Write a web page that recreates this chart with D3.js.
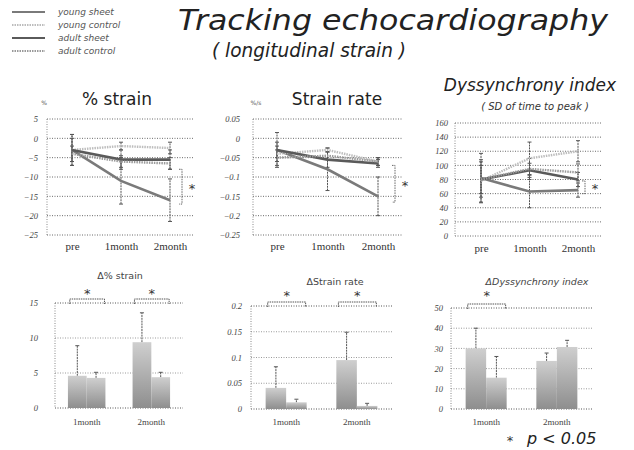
<!DOCTYPE html>
<html>
<head>
<meta charset="utf-8">
<script src="https://cdn.jsdelivr.net/npm/d3@7"></script>
<style>
  html, body { margin: 0; padding: 0; background: #fff; }
  svg { display: block; font-family: "DejaVu Sans", Verdana, sans-serif; }
</style>
</head>
<body>
<svg id="chart" width="634" height="450"></svg>
<script>
// ---- data ----
const timepoints = ['pre', '1month', '2month'];
const seriesNames = ['young sheet', 'young control', 'adult sheet', 'adult control'];

// % strain (mean, SD) per group
const strainYoungSheet = [-3, -11, -16];
const strainYoungControl = [-3, -2, -2.5];
const strainAdultSheet = [-3, -5.5, -5.5];
const strainAdultControl = [-4, -6, -6.5];
const strainYoungSheetSD = [4, 6, 5.5];
const strainYoungControlSD = [4, 1, 1.5];
const strainAdultSheetSD = [3, 2.5, 2.5];
const strainAdultControlSD = [2, 1.5, 1.5];

// strain rate (%/s)
const rateYoungSheet = [-0.03, -0.08, -0.15];
const rateYoungControl = [-0.04, -0.03, -0.06];
const rateAdultSheet = [-0.03, -0.055, -0.065];
const rateAdultControl = [-0.05, -0.045, -0.06];
const rateYoungSheetSD = [0.045, 0.055, 0.05];
const rateYoungControlSD = [0.02, 0.005, 0.01];
const rateAdultSheetSD = [0.02, 0.02, 0.01];
const rateAdultControlSD = [0.02, 0.01, 0.01];

// dyssynchrony index (SD of time to peak)
const dysYoungSheet = [82, 63, 65];
const dysYoungControl = [78, 110, 120];
const dysAdultSheet = [80, 93, 80];
const dysAdultControl = [80, 95, 90];
const dysYoungSheetSD = [35, 23, 10];
const dysYoungControlSD = [30, 23, 15];
const dysAdultSheetSD = [20, 10, 10];
const dysAdultControlSD = [25, 15, 12];

const strainTicks = [5, 0, -5, -10, -15, -20, -25];
const rateTicks = [0.05, 0, -0.05, -0.1, -0.15, -0.2, -0.25];
const dysTicks = [160, 140, 120, 100, 80, 60, 40, 20, 0];

// change from baseline, two bars per month
const deltaMonths = ['1month', '2month'];
const dStrainSheet = [4.6, 9.4];
const dStrainSheetSD = [4.3, 4.2];
const dStrainControl = [4.3, 4.4];
const dStrainControlSD = [0.8, 0.7];
const dRateSheet = [0.041, 0.095];
const dRateSheetSD = [0.041, 0.054];
const dRateControl = [0.013, 0.006];
const dRateControlSD = [0.006, 0.005];
const dDysSheet = [30, 23.8];
const dDysSheetSD = [10, 3.9];
const dDysControl = [15.5, 30.7];
const dDysControlSD = [10.5, 3.3];

const dStrainTicks = [0, 5, 10, 15];
const dRateTicks = [0, 0.05, 0.1, 0.15, 0.2];
const dDysTicks = [0, 10, 20, 30, 40, 50];

// ---- styles ----
const serif = '"Liberation Serif", "DejaVu Serif", serif';
const lineStyles = [
  { stroke: '#7a7a7a', width: 2.6, dash: null },     // young sheet
  { stroke: '#bdbdbd', width: 2.4, dash: '1.5,1' },  // young control
  { stroke: '#5a5a5a', width: 2.6, dash: null },     // adult sheet
  { stroke: '#9a9a9a', width: 2.4, dash: '1.5,1' }   // adult control
];

const svg = d3.select('#chart');

const defs = svg.append('defs');
const grad = defs.append('linearGradient').attr('id', 'barFill')
  .attr('x1', 0).attr('y1', 0).attr('x2', 0).attr('y2', 1);
grad.append('stop').attr('offset', '0%').attr('stop-color', '#cfcfcf');
grad.append('stop').attr('offset', '100%').attr('stop-color', '#8e8e8e');

// ---- title & legend ----
svg.append('text').attr('x', 178).attr('y', 30)
  .attr('font-size', 28).attr('font-style', 'italic').attr('fill', '#222')
  .attr('textLength', 430).attr('lengthAdjust', 'spacingAndGlyphs')
  .text('Tracking echocardiography');
svg.append('text').attr('x', 212).attr('y', 57)
  .attr('font-size', 19).attr('font-style', 'italic').attr('fill', '#222')
  .attr('textLength', 194).attr('lengthAdjust', 'spacingAndGlyphs')
  .text('( longitudinal strain )');

const legend = svg.append('g');
seriesNames.forEach((name, i) => {
  const y = 12 + i * 13;
  const st = lineStyles[i];
  legend.append('line').attr('x1', 12).attr('x2', 45).attr('y1', y).attr('y2', y)
    .attr('stroke', st.stroke).attr('stroke-width', 2)
    .attr('stroke-dasharray', st.dash);
  legend.append('text').attr('x', 58).attr('y', y + 3).attr('font-size', 9)
    .attr('font-style', 'italic').attr('fill', '#555').text(name);
});

// ---- line panels ----
function linePanel(cfg) {
  const g = svg.append('g');
  const x = d3.scalePoint().domain(timepoints).range(cfg.xr);
  const y = d3.scaleLinear().domain(cfg.domain).range(cfg.yr);

  // grid
  g.selectAll('line.grid').data(cfg.ticks).join('line')
    .attr('x1', cfg.gx[0]).attr('x2', cfg.gx[1])
    .attr('y1', d => y(d)).attr('y2', d => y(d))
    .attr('stroke', '#6a6a6a').attr('stroke-width', 1).attr('stroke-dasharray', '1,1.5');
  g.append('line').attr('x1', cfg.gx[0]).attr('x2', cfg.gx[0])
    .attr('y1', y(cfg.domain[1])).attr('y2', y(cfg.domain[0]))
    .attr('stroke', '#8a8a8a').attr('stroke-dasharray', '1,1.5');

  // y axis labels
  const yAxis = d3.axisLeft(y).tickValues(cfg.ticks).tickSize(0).tickPadding(0)
    .tickFormat(cfg.fmt);
  const ya = g.append('g').attr('transform', `translate(${cfg.labelX},0)`).call(yAxis)
    .attr('font-family', serif);
  ya.select('.domain').remove();
  ya.selectAll('text').attr('font-size', 8.5).attr('font-style', 'italic').attr('fill', '#444');

  // x axis labels
  const xAxis = d3.axisBottom(x).tickSize(0).tickPadding(0);
  const xa = g.append('g').attr('transform', `translate(0,${cfg.catY})`).call(xAxis)
    .attr('font-family', serif);
  xa.select('.domain').remove();
  xa.selectAll('text').attr('font-size', 11).attr('fill', '#333');

  // error bars
  cfg.series.forEach((s) => {
    s.mean.forEach((m, i) => {
      const sd = s.sd[i];
      const cx = x(timepoints[i]);
      g.append('line').attr('x1', cx).attr('x2', cx)
        .attr('y1', y(m - sd)).attr('y2', y(m + sd))
        .attr('stroke', '#555').attr('stroke-width', 1).attr('stroke-dasharray', '2,0.8');
      [m - sd, m + sd].forEach(v => {
        g.append('line').attr('x1', cx - 2).attr('x2', cx + 2)
          .attr('y1', y(v)).attr('y2', y(v)).attr('stroke', '#555').attr('stroke-width', 1);
      });
    });
  });

  // series lines
  const line = d3.line().x((d, i) => x(timepoints[i])).y(d => y(d));
  cfg.series.forEach((s, si) => {
    const st = lineStyles[si];
    g.append('path').attr('d', line(s.mean)).attr('fill', 'none')
      .attr('stroke', st.stroke).attr('stroke-width', st.width)
      .attr('stroke-dasharray', st.dash);
  });

  // significance bracket
  const b = cfg.bracket;
  const by1 = y(b.from), by2 = y(b.to);
  g.append('path')
    .attr('d', `M${b.x - 3},${by1} H${b.x} V${by2} H${b.x - 3}`)
    .attr('fill', 'none').attr('stroke', '#666').attr('stroke-dasharray', '1.5,1');
  g.append('text').attr('x', b.x + 10).attr('y', (by1 + by2) / 2 + 6)
    .attr('text-anchor', 'middle').attr('font-size', 13).attr('fill', '#333').text('*');

  return { g, x, y };
}

const p1 = linePanel({
  xr: [72, 170], gx: [47, 193], domain: [-25, 5], yr: [235, 119],
  ticks: strainTicks, fmt: d3.format('d'), labelX: 38, catY: 242,
  series: [
    { mean: strainYoungSheet, sd: strainYoungSheetSD },
    { mean: strainYoungControl, sd: strainYoungControlSD },
    { mean: strainAdultSheet, sd: strainAdultSheetSD },
    { mean: strainAdultControl, sd: strainAdultControlSD }
  ],
  bracket: { x: 182, from: -8, to: -17 }
});
p1.g.append('text').attr('x', 117).attr('y', 105).attr('text-anchor', 'middle')
  .attr('font-size', 17).attr('fill', '#222').text('% strain');
p1.g.append('text').attr('x', 44).attr('y', 105).attr('text-anchor', 'middle')
  .attr('font-size', 6).attr('fill', '#555').text('%');

const p2 = linePanel({
  xr: [277, 378], gx: [253, 402], domain: [-0.25, 0.05], yr: [235, 119],
  ticks: rateTicks, fmt: d => (d === 0 ? '0' : d3.format('.2~f')(d)), labelX: 240, catY: 242,
  series: [
    { mean: rateYoungSheet, sd: rateYoungSheetSD },
    { mean: rateYoungControl, sd: rateYoungControlSD },
    { mean: rateAdultSheet, sd: rateAdultSheetSD },
    { mean: rateAdultControl, sd: rateAdultControlSD }
  ],
  bracket: { x: 395, from: -0.07, to: -0.165 }
});
p2.g.append('text').attr('x', 337).attr('y', 105).attr('text-anchor', 'middle')
  .attr('font-size', 17).attr('fill', '#222').text('Strain rate');
p2.g.append('text').attr('x', 256).attr('y', 105).attr('text-anchor', 'middle')
  .attr('font-size', 6).attr('fill', '#555').text('%/s');

const p3 = linePanel({
  xr: [481, 578], gx: [455, 602], domain: [0, 160], yr: [236, 123],
  ticks: dysTicks, fmt: d3.format('d'), labelX: 448, catY: 244,
  series: [
    { mean: dysYoungSheet, sd: dysYoungSheetSD },
    { mean: dysYoungControl, sd: dysYoungControlSD },
    { mean: dysAdultSheet, sd: dysAdultSheetSD },
    { mean: dysAdultControl, sd: dysAdultControlSD }
  ],
  bracket: { x: 585, from: 78, to: 60 }
});
p3.g.append('text').attr('x', 530).attr('y', 91).attr('text-anchor', 'middle')
  .attr('font-size', 17).attr('font-style', 'italic').attr('fill', '#222').text('Dyssynchrony index');
p3.g.append('text').attr('x', 535).attr('y', 110).attr('text-anchor', 'middle')
  .attr('font-size', 10).attr('font-style', 'italic').attr('fill', '#333').text('( SD of time to peak )');

// ---- bar panels ----
function barPanel(cfg) {
  const g = svg.append('g');
  const x0 = d3.scaleBand().domain(deltaMonths).range(cfg.xr)
    .paddingInner(0.42).paddingOuter(cfg.po);
  const x1 = d3.scaleBand().domain([0, 1]).range([0, x0.bandwidth()]);
  const y = d3.scaleLinear().domain([0, cfg.max]).range(cfg.yr);

  g.selectAll('line.grid').data(cfg.ticks).join('line')
    .attr('x1', cfg.xr[0]).attr('x2', cfg.xr[1])
    .attr('y1', d => y(d)).attr('y2', d => y(d))
    .attr('stroke', d => (d === 0 || d === cfg.max ? '#555' : '#9a9a9a')).attr('stroke-width', 1)
    .attr('stroke-dasharray', '1,1.5');
  g.append('line').attr('x1', cfg.xr[0]).attr('x2', cfg.xr[0])
    .attr('y1', y(cfg.max)).attr('y2', y(0))
    .attr('stroke', '#888').attr('stroke-dasharray', '1,1.5');

  const yAxis = d3.axisLeft(y).tickValues(cfg.ticks).tickSize(0).tickPadding(0).tickFormat(cfg.fmt);
  const ya = g.append('g').attr('transform', `translate(${cfg.labelX},0)`).call(yAxis)
    .attr('font-family', serif);
  ya.select('.domain').remove();
  ya.selectAll('text').attr('font-size', 8.5).attr('font-style', 'italic').attr('fill', '#444');

  const xAxis = d3.axisBottom(x0).tickSize(0).tickPadding(0);
  const xa = g.append('g').attr('transform', `translate(0,${cfg.catY})`).call(xAxis)
    .attr('font-family', serif);
  xa.select('.domain').remove();
  xa.selectAll('text').attr('font-size', 9).attr('fill', '#444');

  const groups = [
    { mean: cfg.a, sd: cfg.aSD },
    { mean: cfg.b, sd: cfg.bSD }
  ];
  deltaMonths.forEach((m, mi) => {
    groups.forEach((s, si) => {
      const bx = x0(m) + x1(si);
      const bw = x1.bandwidth();
      const v = s.mean[mi];
      const top = v + s.sd[mi];
      g.append('line').attr('x1', bx + bw / 2).attr('x2', bx + bw / 2)
        .attr('y1', y(v)).attr('y2', y(top))
        .attr('stroke', '#555').attr('stroke-width', 1).attr('stroke-dasharray', '2,0.8');
      g.append('line').attr('x1', bx + bw / 2 - 2).attr('x2', bx + bw / 2 + 2)
        .attr('y1', y(top)).attr('y2', y(top)).attr('stroke', '#555');
      g.append('rect').attr('x', bx).attr('y', y(v))
        .attr('width', bw).attr('height', y(0) - y(v))
        .attr('fill', 'url(#barFill)');
    });
  });

  // brackets over compared bars
  cfg.brackets.forEach(m => {
    const bx1 = x0(m) + x1.bandwidth() * 0.1;
    const bx2 = x0(m) + x0.bandwidth() - x1.bandwidth() * 0.05;
    const by = y(cfg.max) - 4;
    g.append('path').attr('d', `M${bx1},${by + 5} V${by} H${bx2} V${by + 5}`)
      .attr('fill', 'none').attr('stroke', '#555').attr('stroke-dasharray', '1.5,0.8');
    g.append('text').attr('x', (bx1 + bx2) / 2).attr('y', cfg.starY)
      .attr('text-anchor', 'middle').attr('font-size', 13).attr('fill', '#333').text('*');
  });
  g.append('text').attr('x', cfg.titleX).attr('y', cfg.titleY).attr('text-anchor', 'middle')
    .attr('font-size', 9.5).attr('font-style', cfg.titleItalic ? 'italic' : 'normal')
    .attr('fill', '#444').text(cfg.title);
  return g;
}

barPanel({
  xr: [55, 183], po: 0.2, yr: [408, 303], max: 15, ticks: dStrainTicks,
  fmt: d3.format('d'), labelX: 38, catY: 419,
  a: dStrainSheet, aSD: dStrainSheetSD, b: dStrainControl, bSD: dStrainControlSD,
  brackets: ['1month', '2month'], starY: 298,
  title: 'Δ% strain', titleX: 120, titleY: 279
});

barPanel({
  xr: [251, 392], po: 0.207, yr: [409, 306], max: 0.2, ticks: dRateTicks,
  fmt: d => (d === 0 ? '0' : d3.format('.2~f')(d)), labelX: 242, catY: 419,
  a: dRateSheet, aSD: dRateSheetSD, b: dRateControl, bSD: dRateControlSD,
  brackets: ['1month', '2month'], starY: 300,
  title: 'ΔStrain rate', titleX: 335, titleY: 285
});

barPanel({
  xr: [451, 592], po: 0.207, yr: [409, 308], max: 50, ticks: dDysTicks,
  fmt: d3.format('d'), labelX: 443, catY: 419,
  a: dDysSheet, aSD: dDysSheetSD, b: dDysControl, bSD: dDysControlSD,
  brackets: ['1month'], starY: 300,
  title: 'ΔDyssynchrony index', titleX: 537, titleY: 285, titleItalic: true
});

// significance note
svg.append('text').attr('x', 510).attr('y', 445).attr('text-anchor', 'middle')
  .attr('font-size', 13).attr('fill', '#333').text('*');
svg.append('text').attr('x', 527).attr('y', 444)
  .attr('font-size', 16).attr('font-style', 'italic').attr('fill', '#222').text('p < 0.05');
</script>
</body>
</html>
